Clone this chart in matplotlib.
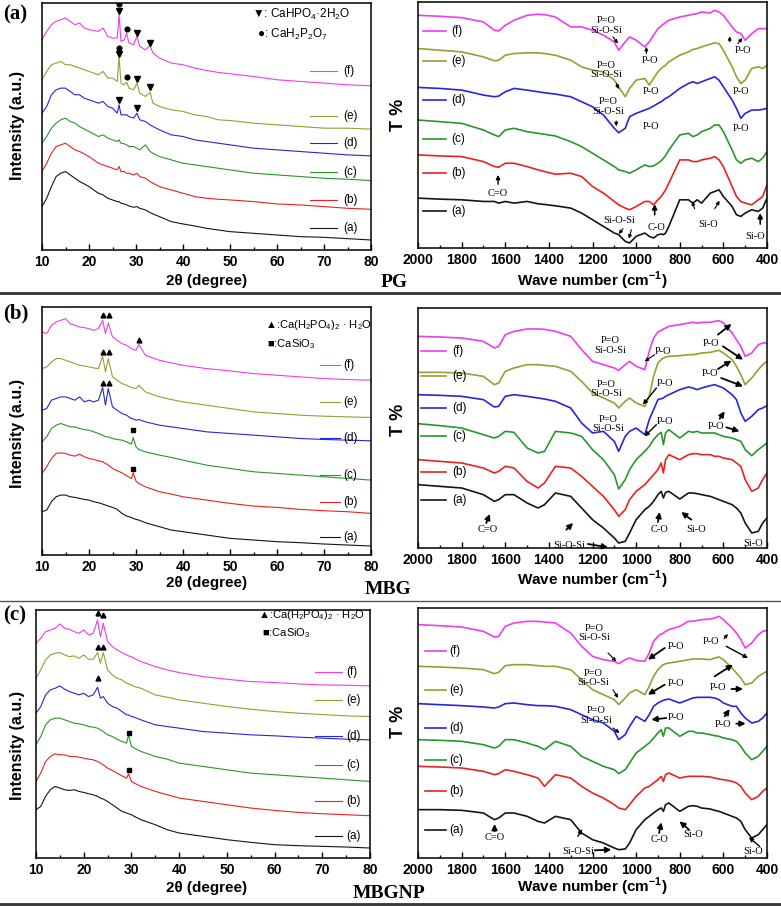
import matplotlib
matplotlib.use("Agg")
import matplotlib.pyplot as plt
from matplotlib.lines import Line2D

plt.rcParams['font.family'] = ['Liberation Sans', 'DejaVu Sans']
plt.rcParams['mathtext.fontset'] = 'custom'
plt.rcParams['mathtext.rm'] = 'Liberation Sans'
plt.rcParams['mathtext.bf'] = 'Liberation Sans:bold'
SERIF = ['Liberation Serif', 'DejaVu Serif']

# ---------------- data ----------------
SAMPLES = ["(a)", "(b)", "(c)", "(d)", "(e)", "(f)"]
COLORS = ["#151515", "#e8231f", "#2a962a", "#2626de", "#9c9c32", "#ee3cee"]

# XRD, intensity in a.u. (stacked as plotted)
xrd_a_2theta = [10, 11, 12, 13, 14, 15, 16, 17, 18, 19, 20, 22, 23, 24, 25, 26, 26.4, 26.8,
                27.5, 28, 28.5, 29.5, 30.2, 30.8, 32, 33, 33.6, 35, 37.5, 40, 42.5, 45, 47.5,
                50, 55, 60, 65, 70, 75, 80]
xrd_a = [
    [130, 155, 190, 220, 230, 235, 225, 215, 205, 198, 190, 170, 165, 155, 150, 145, 145, 140,
     138, 135, 132, 128, 130, 125, 120, 112, 108, 100, 85, 78, 72, 65, 60, 55, 50, 45, 40, 38, 34, 30],
    [235, 260, 290, 310, 315, 320, 310, 300, 295, 288, 280, 260, 255, 250, 245, 240, 250, 235,
     235, 230, 230, 225, 230, 220, 215, 205, 200, 190, 180, 170, 160, 155, 152, 150, 145, 138, 135, 130, 125, 122],
    [320, 340, 365, 380, 390, 395, 385, 380, 370, 362, 355, 340, 345, 335, 330, 325, 330, 320,
     318, 315, 310, 310, 305, 300, 315, 295, 290, 280, 270, 260, 255, 250, 245, 240, 230, 225, 220, 215, 212, 208],
    [410, 430, 465, 480, 485, 485, 475, 465, 465, 455, 450, 440, 445, 430, 425, 410, 435, 405,
     405, 405, 400, 395, 410, 390, 385, 375, 370, 360, 345, 340, 330, 325, 320, 315, 305, 300, 295, 290, 285, 282],
    [510, 535, 555, 560, 565, 555, 555, 550, 545, 540, 535, 525, 535, 515, 515, 505, 578, 500,
     495, 503, 485, 480, 500, 470, 460, 472, 440, 430, 420, 415, 405, 400, 390, 388, 380, 375, 370, 365, 365, 362],
    [630, 655, 675, 685, 690, 695, 685, 675, 680, 665, 660, 655, 665, 640, 635, 635, 705, 625,
     630, 650, 620, 615, 640, 610, 600, 612, 590, 575, 560, 555, 545, 538, 532, 528, 520, 510, 505, 500, 495, 492],
]

xrd_bc_2theta = [10, 11, 12, 13, 14, 15, 16, 17, 18, 19, 20, 21, 22, 22.9, 23.5, 24.1, 25, 26,
                 27, 28, 29, 29.4, 30, 30.6, 32, 35, 37.5, 40, 45, 50, 55, 60, 65, 70, 75, 80]
xrd_b = [
    [130, 135, 160, 175, 180, 180, 175, 173, 170, 167, 165, 160, 157, 153, 150, 147, 143, 137,
     125, 117, 113, 110, 107, 105, 97, 85, 75, 70, 60, 50, 45, 40, 37, 33, 30, 27],
    [245, 265, 290, 305, 307, 305, 300, 297, 303, 295, 290, 287, 283, 280, 275, 270, 260, 253,
     247, 238, 230, 247, 222, 215, 205, 190, 183, 175, 165, 155, 147, 143, 137, 133, 130, 125],
    [340, 355, 380, 390, 395, 390, 385, 385, 380, 377, 375, 370, 365, 360, 355, 355, 350, 347,
     345, 340, 333, 353, 325, 317, 310, 300, 293, 285, 270, 260, 250, 245, 240, 235, 230, 225],
    [435, 440, 465, 470, 475, 475, 470, 465, 475, 460, 465, 460, 465, 503, 450, 500, 445, 435,
     425, 420, 410, 409, 405, 407, 400, 390, 385, 380, 370, 365, 360, 355, 350, 347, 345, 343],
    [560, 565, 580, 590, 590, 585, 580, 575, 570, 568, 565, 562, 560, 597, 550, 590, 535, 525,
     515, 510, 503, 502, 500, 510, 490, 475, 467, 460, 450, 440, 430, 425, 420, 417, 415, 413],
    [670, 665, 690, 700, 705, 710, 695, 690, 685, 683, 680, 675, 680, 705, 665, 697, 655, 645,
     635, 630, 620, 618, 615, 632, 600, 585, 577, 570, 560, 553, 545, 540, 535, 530, 527, 525],
]
xrd_c = [
    [145, 155, 185, 205, 215, 210, 205, 203, 205, 200, 197, 193, 190, 185, 180, 177, 170, 160,
     150, 140, 135, 133, 130, 125, 115, 100, 85, 75, 65, 55, 47, 40, 37, 35, 33, 30],
    [230, 255, 290, 305, 313, 310, 310, 305, 305, 303, 300, 297, 295, 290, 285, 280, 270, 263,
     255, 247, 240, 253, 230, 225, 215, 200, 190, 180, 170, 160, 150, 143, 137, 133, 130, 127],
    [340, 365, 400, 415, 420, 420, 415, 410, 405, 403, 400, 395, 393, 390, 385, 380, 370, 365,
     357, 350, 345, 370, 335, 330, 320, 305, 297, 285, 275, 265, 255, 250, 245, 240, 235, 230],
    [435, 455, 490, 505, 510, 517, 507, 500, 495, 490, 495, 485, 490, 513, 480, 485, 465, 455,
     450, 440, 430, 430, 425, 423, 415, 400, 395, 390, 380, 375, 370, 367, 363, 360, 357, 355],
    [540, 565, 595, 610, 615, 617, 610, 605, 607, 600, 610, 597, 597, 617, 585, 617, 565, 550,
     540, 535, 525, 523, 520, 515, 510, 490, 483, 475, 465, 455, 447, 440, 435, 431, 427, 425],
    [645, 660, 680, 685, 690, 703, 690, 687, 680, 675, 685, 670, 675, 715, 665, 705, 650, 635,
     625, 617, 610, 607, 605, 600, 590, 575, 565, 557, 545, 537, 530, 527, 523, 520, 519, 517],
]

# FTIR, transmittance in a.u. (stacked as plotted)
wavenumber = [2000, 1900, 1800, 1700, 1650, 1630, 1600, 1560, 1500, 1450, 1420, 1370, 1300,
              1250, 1200, 1150, 1100, 1080, 1050, 1030, 1000, 960, 940, 920, 900, 885, 875,
              865, 850, 800, 760, 740, 720, 700, 660, 640, 620, 600, 560, 540, 520, 500, 470,
              440, 420, 400]
ftir_a = [
    [150, 147, 145, 140, 140, 135, 140, 135, 140, 133, 131, 127, 120, 105, 85, 65, 45, 40, 20, 15,
     35, 45, 35, 30, 40, 42, 40, 45, 65, 145, 145, 135, 145, 135, 165, 170, 175, 155, 125, 100,
     95, 105, 115, 110, 120, 150],
    [280, 277, 275, 260, 245, 243, 255, 255, 245, 235, 230, 222, 225, 215, 185, 165, 140, 130, 120, 115,
     125, 140, 140, 130, 145, 155, 165, 175, 195, 265, 265, 260, 260, 265, 270, 275, 265, 245, 185, 155,
     140, 135, 130, 145, 155, 190],
    [385, 380, 375, 355, 340, 335, 355, 360, 350, 345, 342, 337, 320, 305, 285, 265, 245, 235, 230, 225,
     235, 250, 245, 247, 255, 262, 270, 278, 295, 340, 345, 335, 340, 350, 360, 370, 370, 350, 295, 265,
     255, 265, 270, 260, 270, 290],
    [483, 480, 475, 460, 455, 457, 470, 480, 475, 470, 467, 463, 455, 440, 425, 400, 360, 347, 360, 395,
     405, 415, 420, 427, 435, 440, 445, 450, 455, 480, 495, 500, 495, 500, 510, 515, 505, 485, 445, 420,
     390, 405, 415, 415, 417, 420],
    [600, 595, 590, 575, 563, 565, 580, 585, 587, 587, 585, 580, 565, 545, 535, 530, 505, 485, 455, 480,
     505, 510, 490, 510, 530, 540, 545, 550, 560, 580, 590, 597, 600, 605, 613, 617, 615, 595, 545, 515,
     495, 505, 540, 545, 540, 550],
    [700, 697, 693, 680, 655, 653, 670, 685, 700, 703, 702, 695, 665, 665, 655, 640, 620, 595, 620, 635,
     625, 605, 620, 640, 660, 668, 673, 678, 685, 695, 700, 703, 705, 710, 707, 715, 710, 700, 665, 650,
     645, 625, 645, 660, 660, 660],
]
ftir_b = [
    [190, 185, 180, 160, 140, 145, 160, 160, 135, 120, 130, 165, 155, 120, 85, 60, 30, 15, 20, 45,
     85, 115, 125, 140, 160, 170, 150, 167, 170, 147, 165, 165, 163, 160, 155, 150, 145, 140, 130, 120,
     105, 75, 45, 50, 75, 90],
    [265, 260, 255, 240, 225, 230, 245, 240, 200, 180, 195, 245, 240, 215, 185, 155, 115, 95, 115, 145,
     170, 190, 205, 220, 235, 255, 225, 265, 280, 265, 280, 283, 283, 280, 280, 275, 275, 270, 265, 255,
     245, 205, 170, 180, 205, 225],
    [373, 367, 360, 340, 330, 335, 350, 347, 300, 285, 290, 350, 345, 335, 295, 265, 220, 177, 205, 235,
     265, 290, 305, 325, 340, 347, 310, 345, 355, 330, 350, 347, 350, 345, 345, 345, 340, 335, 330, 325,
     320, 295, 277, 295, 305, 315],
    [460, 458, 455, 445, 423, 425, 455, 460, 455, 450, 447, 440, 420, 375, 345, 350, 320, 290, 335, 350,
     360, 340, 385, 415, 445, 448, 450, 455, 460, 475, 483, 480, 475, 480, 487, 490, 485, 480, 460, 445,
     405, 380, 395, 415, 420, 427],
    [527, 527, 525, 515, 490, 495, 530, 540, 550, 550, 548, 545, 530, 500, 465, 450, 435, 420, 440, 450,
     435, 425, 455, 515, 555, 565, 570, 573, 575, 577, 580, 580, 582, 585, 587, 590, 593, 585, 565, 545,
     520, 490, 510, 535, 550, 560],
    [635, 633, 630, 620, 600, 605, 640, 650, 657, 657, 656, 650, 635, 595, 560, 550, 540, 533, 550, 560,
     545, 535, 590, 630, 648, 653, 657, 660, 665, 670, 675, 677, 675, 677, 677, 680, 682, 675, 645, 625,
     605, 575, 585, 610, 615, 615],
]
ftir_c = [
    [145, 145, 143, 135, 115, 120, 135, 135, 125, 110, 105, 125, 115, 75, 55, 45, 30, 25, 27, 45,
     85, 115, 125, 135, 145, 150, 140, 160, 165, 140, 155, 157, 155, 150, 147, 143, 140, 135, 125, 120,
     110, 85, 60, 70, 85, 100],
    [275, 273, 270, 260, 250, 253, 265, 260, 250, 240, 215, 250, 240, 215, 195, 180, 160, 150, 145, 160,
     185, 210, 215, 225, 235, 245, 230, 250, 255, 240, 245, 245, 245, 245, 243, 240, 237, 235, 230, 225,
     215, 195, 175, 185, 200, 210],
    [355, 353, 350, 340, 330, 335, 355, 355, 345, 335, 325, 350, 335, 305, 290, 275, 265, 253, 265, 285,
     315, 335, 345, 360, 375, 385, 365, 390, 390, 365, 380, 380, 375, 375, 370, 367, 365, 360, 355, 350,
     335, 315, 295, 305, 320, 335],
    [463, 460, 457, 453, 450, 453, 463, 465, 460, 457, 457, 455, 445, 430, 415, 405, 380, 355, 370, 395,
     425, 410, 430, 455, 465, 470, 473, 475, 477, 465, 475, 480, 482, 482, 482, 480, 475, 465, 455, 455,
     435, 420, 405, 410, 420, 435],
    [575, 573, 570, 565, 553, 557, 577, 580, 580, 577, 575, 575, 565, 535, 505, 490, 475, 460, 480, 495,
     505, 490, 515, 545, 565, 575, 580, 583, 585, 590, 595, 597, 597, 597, 595, 600, 603, 595, 570, 555,
     540, 520, 525, 545, 553, 560],
    [700, 697, 693, 680, 663, 665, 695, 705, 710, 710, 708, 705, 675, 635, 605, 595, 590, 583, 595, 600,
     593, 590, 615, 650, 665, 672, 675, 680, 685, 695, 710, 710, 713, 715, 717, 720, 725, 715, 690, 675,
     655, 630, 645, 670, 680, 683],
]

# ---------------- figure ----------------
W, H = 781, 906
fig = plt.figure(figsize=(W / 100, H / 100), dpi=100)


def box(x0, y0, x1, y1):
    return fig.add_axes([x0 / W, 1 - y1 / H, (x1 - x0) / W, (y1 - y0) / H])


def ftext(x, y, s, **kw):
    fig.text(x / W, 1 - y / H, s, **kw)


def frame(ax, xlim, ylim, ticks, minor):
    ax.set_xlim(*xlim)
    ax.set_ylim(*ylim)
    ax.set_yticks([])
    ax.set_xticks(ticks)
    ax.set_xticklabels([str(t) for t in ticks], fontweight='bold', fontsize=10)
    ax.set_xticks(minor, minor=True)
    ax.tick_params(axis='x', which='major', direction='in', length=4, width=1, pad=3.5)
    ax.tick_params(axis='x', which='minor', direction='in', length=2.5, width=1)
    for sp in ax.spines.values():
        sp.set_linewidth(1.1)


def key(ax, x0, x1, xt, ys, lw):
    for lab, col, y in zip(SAMPLES, COLORS, ys):
        ax.plot([x0, x1], [y, y], color=col, lw=lw)
        ax.text(xt, y, lab, va='center', ha='left', fontsize=8.5)


def note(ax, x, y, s, size=7.5):
    ax.text(x, y, s, ha='center', va='center', family=SERIF, fontsize=size, linespacing=1.1)


def arrow(ax, x0, y0, x1, y1, lw=1.0, ms=7):
    ax.annotate('', xy=(x1, y1), xytext=(x0, y0),
                arrowprops=dict(arrowstyle='-|>', color='black', lw=lw,
                                mutation_scale=ms, shrinkA=0, shrinkB=0))


def xrd_panel(ax, tt, traces, ylim):
    for ys, col in zip(traces, COLORS):
        ax.plot(tt, ys, color=col, lw=0.8)
    frame(ax, (10, 80), ylim, list(range(10, 81, 10)), list(range(15, 80, 10)))


def ftir_panel(ax, traces, ylim):
    for ys, col in zip(traces, COLORS):
        ax.plot(wavenumber, ys, color=col, lw=1.2)
    frame(ax, (2000, 400), ylim, list(range(2000, 399, -200)), list(range(1900, 400, -200)))


# ---- row (a): PG ----
ax = box(42, 3, 371, 250)
xrd_panel(ax, xrd_a_2theta, xrd_a, (0, 740))
key(ax, 67.1, 72.8, 74.0, [65, 150, 235, 320, 400, 535], 0.8)
ax.plot([26.4, 30.2, 33, 26.4, 30.2, 33, 26.4, 30.2], [717, 650, 620, 587, 513, 488, 450, 425],
        'v', color='black', ms=3.8)
ax.plot([26.4, 28, 26.4, 28], [737, 662, 604, 518], 'o', color='black', ms=3.4)
ax.text(54.7, 705, r"▼: CaHPO$_4$·2H$_2$O", fontsize=8.5, va='center')
ax.text(55.7, 645, r"●: CaH$_2$P$_2$O$_7$", fontsize=8.5, va='center')

ax = box(418, 2, 767, 248)
ftir_panel(ax, ftir_a, (0, 740))
key(ax, 1977, 1870, 1847, [110, 225, 327, 445, 563, 653], 1.2)
note(ax, 1137, 670, "P=O\nSi-O-Si")
arrow(ax, 1106, 635, 1083, 615, 0.8, 5)
note(ax, 938, 565, "P-O")
arrow(ax, 953, 585, 953, 605, 0.8, 5)
note(ax, 510, 595, "P-O")
arrow(ax, 571, 620, 571, 637, 0.8, 5)
arrow(ax, 533, 615, 513, 632, 0.8, 5)
note(ax, 1137, 535, "P=O\nSi-O-Si")
arrow(ax, 1091, 495, 1079, 478, 0.8, 5)
note(ax, 930, 470, "P-O")
note(ax, 518, 470, "P-O")
note(ax, 1129, 425, "P=O\nSi-O-Si")
arrow(ax, 1091, 382, 1091, 366, 0.8, 5)
note(ax, 930, 365, "P-O")
note(ax, 518, 360, "P-O")
note(ax, 1633, 165, "C=O")
arrow(ax, 1633, 192, 1633, 220, 1.0, 6)
note(ax, 1076, 82, "Si-O-Si")
arrow(ax, 1060, 58, 1080, 42, 0.8, 5)
arrow(ax, 1022, 55, 1033, 28, 0.8, 5)
note(ax, 907, 62, "C-O")
arrow(ax, 915, 100, 915, 132, 1.2, 7)
note(ax, 671, 70, "Si-O")
arrow(ax, 732, 118, 743, 140, 0.8, 5)
arrow(ax, 640, 118, 617, 142, 0.8, 5)
note(ax, 457, 35, "Si-O")
arrow(ax, 431, 72, 431, 105, 1.2, 7)

# ---- row (b): MBG ----
ax = box(42, 307, 371, 555)
xrd_panel(ax, xrd_bc_2theta, xrd_b, (0, 745))
key(ax, 69.2, 73.5, 74.2, [55, 160, 240, 350, 460, 570], 0.8)
ax.plot([22.9, 24.2, 30.6, 22.9, 24.2, 22.9, 24.2], [720, 720, 647, 610, 610, 518, 518],
        '^', color='black', ms=3.5)
ax.plot([29.4, 29.4], [375, 258], 's', color='black', ms=3)
ax.text(57.5, 690, r"▲:Ca(H$_2$PO$_4$)$_2$ · H$_2$O", fontsize=8, va='center')
ax.text(57.9, 635, r"■:CaSiO$_3$", fontsize=8, va='center')

ax = box(418, 308, 767, 548)
ftir_panel(ax, ftir_b, (0, 720))
key(ax, 1985, 1870, 1845, [145, 227, 337, 420, 515, 592], 1.2)
note(ax, 1121, 607, "P=O\nSi-O-Si")
note(ax, 877, 590, "P-O")
arrow(ax, 915, 580, 961, 560, 0.8, 5)
note(ax, 656, 615, "P-O")
arrow(ax, 625, 640, 563, 672, 1.3, 8)
arrow(ax, 602, 605, 510, 565, 1.3, 8)
note(ax, 1137, 477, "P=O\nSi-O-Si")
note(ax, 869, 495, "P-O")
arrow(ax, 907, 480, 969, 430, 1.0, 6)
note(ax, 663, 525, "P-O")
arrow(ax, 625, 537, 563, 562, 1.3, 8)
arrow(ax, 610, 510, 510, 485, 1.3, 8)
note(ax, 1129, 372, "P=O\nSi-O-Si")
note(ax, 869, 380, "P-O")
arrow(ax, 907, 370, 961, 335, 1.0, 6)
note(ax, 633, 365, "P-O")
arrow(ax, 617, 388, 594, 410, 1.3, 8)
arrow(ax, 587, 362, 526, 350, 1.3, 8)
note(ax, 1679, 55, "C=O")
arrow(ax, 1687, 75, 1671, 102, 1.3, 8)
note(ax, 1305, 8, "Si-O-Si")
arrow(ax, 1320, 55, 1289, 75, 1.3, 8)
arrow(ax, 1221, 12, 1129, 2, 1.3, 8)
note(ax, 892, 55, "C-O")
arrow(ax, 900, 78, 892, 108, 1.3, 8)
note(ax, 724, 55, "Si-O")
arrow(ax, 747, 85, 793, 108, 1.3, 8)
note(ax, 464, 12, "Si-O")

# ---- row (c): MBGNP ----
ax = box(36, 610, 370, 858)
xrd_panel(ax, xrd_bc_2theta, xrd_c, (0, 745))
key(ax, 68.5, 74.1, 75.1, [65, 170, 280, 365, 475, 560], 0.8)
ax.plot([22.9, 24.1, 22.9, 24.1, 22.9], [735, 730, 635, 635, 540], '^', color='black', ms=3.5)
ax.plot([29.4, 29.4], [377, 263], 's', color='black', ms=3)
ax.text(56.6, 730, r"▲:Ca(H$_2$PO$_4$)$_2$ · H$_2$O", fontsize=8, va='center')
ax.text(57.3, 675, r"■:CaSiO$_3$", fontsize=8, va='center')

ax = box(418, 608, 767, 858)
ftir_panel(ax, ftir_c, (0, 750))
key(ax, 1969, 1870, 1855, [85, 200, 295, 390, 505, 620], 1.2)
note(ax, 1190, 675, "P=O\nSi-O-Si")
arrow(ax, 1129, 615, 1091, 590, 0.8, 5)
note(ax, 816, 635, "P-O")
arrow(ax, 869, 630, 946, 595, 1.3, 8)
note(ax, 656, 650, "P-O")
arrow(ax, 597, 658, 579, 672, 0.8, 5)
arrow(ax, 587, 635, 487, 600, 1.0, 6)
note(ax, 1198, 540, "P=O\nSi-O-Si")
arrow(ax, 1106, 505, 1083, 480, 0.8, 5)
note(ax, 816, 525, "P-O")
arrow(ax, 869, 520, 946, 490, 1.3, 8)
note(ax, 625, 510, "P-O")
arrow(ax, 563, 507, 510, 507, 1.3, 8)
arrow(ax, 640, 545, 556, 580, 1.3, 8)
note(ax, 1182, 428, "P=O\nSi-O-Si")
arrow(ax, 1106, 390, 1076, 375, 0.8, 5)
note(ax, 816, 420, "P-O")
arrow(ax, 862, 420, 930, 415, 1.3, 8)
note(ax, 602, 400, "P-O")
arrow(ax, 541, 403, 498, 403, 1.3, 8)
arrow(ax, 594, 425, 571, 447, 1.3, 8)
note(ax, 1649, 60, "C=O")
arrow(ax, 1649, 80, 1649, 102, 1.3, 8)
note(ax, 1267, 20, "Si-O-Si")
arrow(ax, 1267, 65, 1247, 87, 1.0, 6)
arrow(ax, 1190, 23, 1114, 25, 1.3, 8)
note(ax, 892, 55, "C-O")
arrow(ax, 895, 75, 884, 107, 1.3, 8)
note(ax, 739, 70, "Si-O")
arrow(ax, 758, 85, 801, 110, 1.3, 8)
note(ax, 464, 20, "Si-O")
arrow(ax, 434, 35, 483, 62, 1.0, 6)

# ---- shared text ----
for yx, yf, yi, yt in [(281, 281, 125, 115), (583, 580, 433, 420), (888, 887, 745, 722)]:
    ftext(207, yx, "2θ (degree)", ha='center', va='center', fontsize=11, fontweight='bold')
    ftext(592, yf, r"Wave number (cm$^{\mathbf{-1}}$)", ha='center', va='center',
          fontsize=11, fontweight='bold')
    ftext(18, yi, "Intensity (a.u.)", ha='center', va='center', rotation=90,
          fontsize=11.5, fontweight='bold')
    ftext(398, yt, "T %", ha='center', va='center', rotation=90, fontsize=13, fontweight='bold')

for s, y in [("(a)", 14), ("(b)", 313), ("(c)", 615)]:
    ftext(3, y, s, ha='left', va='center', fontsize=15, fontweight='bold', family=SERIF)
for s, x, y in [("PG", 394, 283), ("MBG", 388, 589), ("MBGNP", 389, 893)]:
    ftext(x, y, s, ha='center', va='center', fontsize=14, fontweight='bold', family=SERIF)

for y, lw, col in [(293, 2.0, '#333333'), (601, 1.0, '#555555'), (904, 2.0, '#333333')]:
    fig.add_artist(Line2D([0, 1], [1 - y / H, 1 - y / H], transform=fig.transFigure,
                          color=col, lw=lw))

fig.savefig("out.png", dpi=100)
